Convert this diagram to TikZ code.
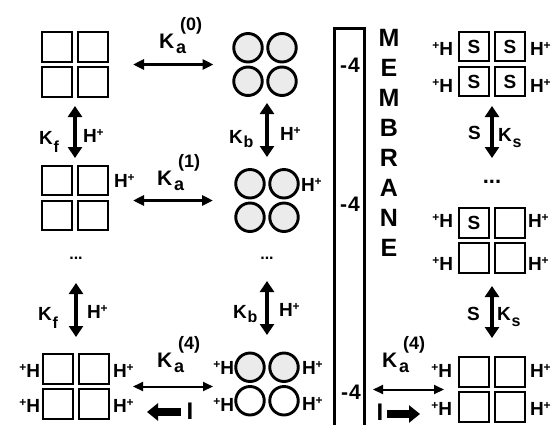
\documentclass[tikz,border=0pt]{standalone}
\usepackage{fontspec}
\setmainfont{Liberation Sans}
\usetikzlibrary{arrows.meta}
\newcommand\Hp{H\raisebox{6pt}{\fontsize{12}{12}\selectfont+}}
\newcommand\pH{\raisebox{6pt}{\fontsize{12}{12}\selectfont+}H}
\newcommand\Kalab[1]{K\kern2pt\rlap{\raisebox{-5pt}{\fontsize{18}{18}\selectfont a}}\kern4pt\raisebox{18pt}{\fontsize{18}{18}\selectfont(#1)}}
\newcommand\Ksub[2]{K\kern1pt\raisebox{-#1}{\fontsize{16}{16}\selectfont #2}}
\begin{document}
\begin{tikzpicture}[x=1pt,y=-1pt,
  every node/.style={inner sep=0pt, outer sep=0pt},
  fnt/.style={font=\bfseries\fontsize{#1}{#1}\selectfont},
  sq/.style={draw, line width=2.4pt, minimum size=29.5pt, fill=white, fnt=19},
  circ/.style={draw, circle, line width=2.9pt, minimum size=28.5pt},
  sqgrp/.style={minimum width=68pt, minimum height=67pt},
  cgrp/.style={minimum width=65pt, minimum height=65pt},
  lab/.style={fnt=19},
  kalab/.style={fnt=21, anchor=base west},
  ka/.style={line width=3pt, {Triangle[length=11pt,width=10pt]}-{Triangle[length=11pt,width=10pt]}},
  kathin/.style={line width=2pt, {Triangle[length=10pt,width=9pt]}-{Triangle[length=10pt,width=9pt]}},
  vert/.style={line width=4.5pt, {Triangle[length=11pt,width=14pt]}-{Triangle[length=11pt,width=14pt]}},
  fat/.style={line width=7.5pt, -{Triangle[length=11pt,width=17pt]}},
  pics/sqgrid/.style n args={4}{code={
    \node[sq] (-a) at (-18,-17.5) {#1};
    \node[sq] (-b) at (18,-17.5) {#2};
    \node[sq] (-c) at (-18,17.5) {#3};
    \node[sq] (-d) at (18,17.5) {#4};
  }},
  pics/cgrid/.style 2 args={code={
    \node[circ,fill=#1] (-a) at (-17,-16.75) {};
    \node[circ,fill=#1] (-b) at (17,-16.75) {};
    \node[circ,fill=#2] (-c) at (-17,16.75) {};
    \node[circ,fill=#2] (-d) at (17,16.75) {};
  }}
]
\path[use as bounding box, clip] (0,0) rectangle (556,424);
\fill[white] (0,0) rectangle (556,424);

% groups
\node[sqgrp] (g1) at (75,64.5) {};
\node[sqgrp] (g2) at (75,198) {};
\node[sqgrp] (g3) at (76,386.5) {};
\node[cgrp] (c1) at (265,64.5) {};
\node[cgrp] (c2) at (267,200.5) {};
\node[cgrp] (c3) at (267,384) {};
\node[sqgrp] (r1) at (492,64) {};
\node[sqgrp] (r2) at (492,240.5) {};
\node[sqgrp] (r3) at (492,389.5) {};

\pic (G1) at (g1) {sqgrid={}{}{}{}};
\pic (G2) at (g2) {sqgrid={}{}{}{}};
\pic (G3) at (g3) {sqgrid={}{}{}{}};
\pic (C1) at (c1) {cgrid={black!8}{black!8}};
\pic (C2) at (c2) {cgrid={black!8}{black!8}};
\pic (C3) at (c3) {cgrid={black!8}{white}};
\pic (R1) at (r1) {sqgrid={S}{S}{S}{S}};
\pic (R2) at (r2) {sqgrid={S}{}{}{}};
\pic (R3) at (r3) {sqgrid={}{}{}{}};

% dots
\node[fnt=16] (d1) at (76,258) {...};
\node[fnt=16] (d2) at (267,258) {...};
\node[fnt=22] (d3) at (492,182) {...};

% membrane
\node[draw, line width=3.3pt, minimum width=30pt, minimum height=440pt, anchor=north west] (mem) at (334.5,28.3) {};
\node[fnt=21] (m4a) at (350,65) {-\kern1pt4};
\node[fnt=21] (m4b) at (350,204) {-\kern1pt4};
\node[fnt=21] (m4c) at (351,392) {-\kern1pt4};
\foreach \l [count=\i] in {M,E,M,B,R,A,N,E}
  \node[fnt=25] (mb\i) at (389,{38+30*(\i-1)}) {\l};

% horizontal arrows
\draw[ka, shorten <=24pt, shorten >=19pt] (g1.east) -- (c1.west);
\draw[ka, shorten <=24pt, shorten >=21.5pt] (g2.east |- c2.west) -- (c2.west);
\draw[kathin, shorten <=23pt, shorten >=21.5pt] (g3.east) -- (g3.east -| c3.west);
\draw[kathin, shorten <=8.5pt, shorten >=14pt] (mem.east |- r3.west) -- (r3.west);

% vertical arrows
\draw[vert, shorten <=8pt, shorten >=6.5pt] (g1.south) -- (g2.north);
\draw[vert, shorten <=25pt, shorten >=16pt] (d1.center) -- (g3.north);
\draw[vert, shorten <=6pt, shorten >=11pt] (c1.south -| c2.north) -- (c2.north);
\draw[vert, shorten <=23pt, shorten >=16.5pt] (d2.center) -- (c3.north);
\draw[vert, shorten <=8.5pt, shorten >=24pt] (r1.south) -- (d3.center);
\draw[vert, shorten <=12pt, shorten >=18pt] (r2.south) -- (r3.north);

% Ka labels
\node[kalab] (ka0) at (159,48) {\Kalab{0}};
\node[kalab] (ka1) at (157,185) {\Kalab{1}};
\node[kalab] (ka4l) at (157,367) {\Kalab{4}};
\node[kalab] (ka4r) at (382,367) {\Kalab{4}};

% vertical arrow labels
\node[lab, anchor=base west] (kf1) at (39,144) {\Ksub{8pt}{f}};
\node[lab, anchor=base west] (kf2) at (38,320) {\Ksub{8pt}{f}};
\node[lab, anchor=base west] (kb1) at (229,143) {\Ksub{4pt}{b}};
\node[lab, anchor=base west] (kb2) at (233,318) {\Ksub{4pt}{b}};
\node[lab, anchor=base west] (hf1) at (83,142) {\Hp};
\node[lab, anchor=base west] (hf2) at (87,318) {\Hp};
\node[lab, anchor=base west] (hb1) at (280,140) {\Hp};
\node[lab, anchor=base west] (hb2) at (279,316) {\Hp};
\node[lab, anchor=base west] (s1) at (468,139) {S};
\node[lab, anchor=base west] (ks1) at (498,141) {\Ksub{6pt}{s}};
\node[lab, anchor=base west] (s2) at (467,320) {S};
\node[lab, anchor=base west] (ks2) at (497,320) {\Ksub{6pt}{s}};

% H+ labels beside groups
\node[lab, anchor=base west] (hg2) at (114,187) {\Hp};
\node[lab, anchor=base east] (hg3a) at (40,377) {\pH};
\node[lab, anchor=base east] (hg3b) at (40,412) {\pH};
\node[lab, anchor=base west] (hg3c) at (113,377) {\Hp};
\node[lab, anchor=base west] (hg3d) at (113,412) {\Hp};
\node[lab, anchor=base west] (hc2) at (301,191) {\Hp};
\node[lab, anchor=base east] (hc3a) at (234,374) {\pH};
\node[lab, anchor=base east] (hc3b) at (234,411) {\pH};
\node[lab, anchor=base west] (hc3c) at (302,374) {\Hp};
\node[lab, anchor=base west] (hc3d) at (302,410) {\Hp};
\node[lab, anchor=base east] (hr1a) at (453,55) {\pH};
\node[lab, anchor=base east] (hr1b) at (453,92) {\pH};
\node[lab, anchor=base west] (hr1c) at (530,55) {\Hp};
\node[lab, anchor=base west] (hr1d) at (530,92) {\Hp};
\node[lab, anchor=base east] (hr2a) at (453,227) {\pH};
\node[lab, anchor=base east] (hr2b) at (453,270) {\pH};
\node[lab, anchor=base west] (hr2c) at (528,227) {\Hp};
\node[lab, anchor=base west] (hr2d) at (528,270) {\Hp};
\node[lab, anchor=base east] (hr3a) at (452,377) {\pH};
\node[lab, anchor=base east] (hr3b) at (452,415) {\pH};
\node[lab, anchor=base west] (hr3c) at (530,377) {\Hp};
\node[lab, anchor=base west] (hr3d) at (530,415) {\Hp};

% current arrows
\node[fnt=24, anchor=base] (iL) at (190,419) {I};
\node[fnt=24, anchor=base] (iR) at (380,420) {I};
\coordinate (aL) at (147,412);
\coordinate (aR) at (420,414);
\draw[fat, shorten <=6pt] (iL.west |- aL) -- (aL);
\draw[fat, shorten <=4pt] (iR.east |- aR) -- (aR);
\end{tikzpicture}
\end{document}
